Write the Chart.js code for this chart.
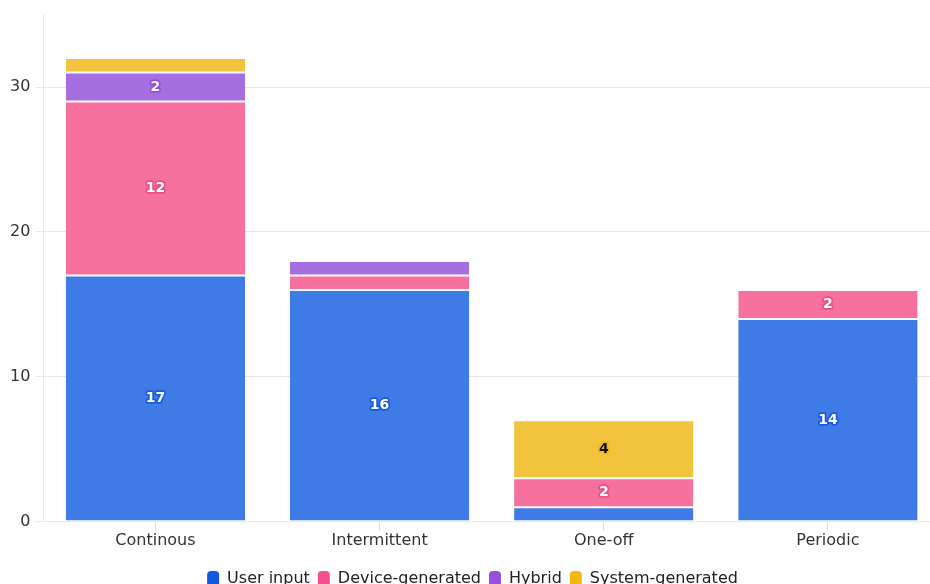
<!DOCTYPE html>
<html>
<head>
<meta charset="utf-8">
<script src="https://cdn.jsdelivr.net/npm/chart.js@4"></script>
<style>
  html,body{margin:0;padding:0;background:#fff;overflow:hidden}
  #wrap{width:940px;height:597px}
</style>
</head>
<body>
<div id="wrap"><canvas id="myChart" width="940" height="597"></canvas></div>
<script>
const categories=['Continous','Intermittent','One-off','Periodic']
const userInput=[17,16,1,14]
const deviceGenerated=[12,1,2,2]
const hybrid=[2,1,0,0]
const systemGenerated=[1,0,4,0]
const yTicks=[0,10,20,30,35]

const barColors=['#3f7be6','#f7719f','#a66fe0','#f2c33c']
const legendColors=['#1558e0','#f5508d','#9850dc','#f3b712']
const labelStroke=['#1a5ae0','#ee4d87','#9350d8','#f2b90f']
const labelFill=['#fff','#fff','#fff','#111']

const FONT='"DejaVu Sans", sans-serif'

// value labels in the middle of each segment (only for 2 and up)
const segLabels={
  id:'segLabels',
  afterDatasetsDraw(chart){
    const ctx=chart.ctx
    chart.data.datasets.forEach((ds,i)=>{
      const meta=chart.getDatasetMeta(i)
      meta.data.forEach((bar,j)=>{
        const v=ds.data[j]
        if(v<2) return
        const y=(bar.y+bar.base)/2
        ctx.save()
        ctx.font='bold 14px '+FONT
        ctx.textAlign='center'
        ctx.textBaseline='middle'
        ctx.lineJoin='round'
        ctx.lineWidth=3.5
        ctx.strokeStyle=labelStroke[i]
        ctx.strokeText(String(v),bar.x,y)
        ctx.fillStyle=labelFill[i]
        ctx.fillText(String(v),bar.x,y)
        ctx.restore()
      })
    })
  }
}

const names=['User input','Device-generated','Hybrid','System-generated']
const series=[userInput,deviceGenerated,hybrid,systemGenerated]

new Chart(document.getElementById('myChart'),{
  type:'bar',
  data:{
    labels:categories,
    datasets:series.map((d,i)=>({
      label:names[i],
      data:d,
      backgroundColor:barColors[i],
      borderColor:'#fff',
      borderWidth:{top:1,bottom:1,left:0,right:0},
      borderSkipped:false,
      barPercentage:0.8,
      categoryPercentage:1
    }))
  },
  options:{
    responsive:false,
    animation:false,
    layout:{padding:{left:5,right:0,top:14,bottom:0}},
    scales:{
      x:{
        stacked:true,
        offset:true,
        grid:{display:true,drawOnChartArea:false,offset:false,color:'#dcdcdc',tickLength:9},
        border:{display:false},
        ticks:{color:'#333',font:{family:FONT,size:16},padding:0}
      },
      y:{
        stacked:true,
        min:0,max:35,
        afterBuildTicks(axis){axis.ticks=yTicks.map(v=>({value:v}))},
        grid:{color:c=>c.tick&&c.tick.value===35?'rgba(0,0,0,0)':'#e8e8e8',tickLength:8},
        border:{display:true,color:'#e8e8e8'},
        ticks:{color:'#333',font:{family:FONT,size:16},padding:5,callback:v=>v===35?'':v}
      }
    },
    plugins:{
      legend:{
        position:'bottom',
        // empty title only used as spacer above the items
        title:{display:true,text:'',font:{size:13,lineHeight:1},padding:0},
        labels:{
          boxWidth:12,
          boxHeight:16,
          padding:8,
          useBorderRadius:true,
          borderRadius:4,
          color:'#222',
          font:{family:FONT,size:16},
          generateLabels(chart){
            return chart.data.datasets.map((ds,i)=>({
              text:ds.label,
              fillStyle:legendColors[i],
              strokeStyle:legendColors[i],
              lineWidth:0,
              borderRadius:4,
              datasetIndex:i,
              fontColor:'#222'
            }))
          }
        }
      },
      tooltip:{enabled:false}
    }
  },
  plugins:[segLabels]
})
</script>
</body>
</html>
